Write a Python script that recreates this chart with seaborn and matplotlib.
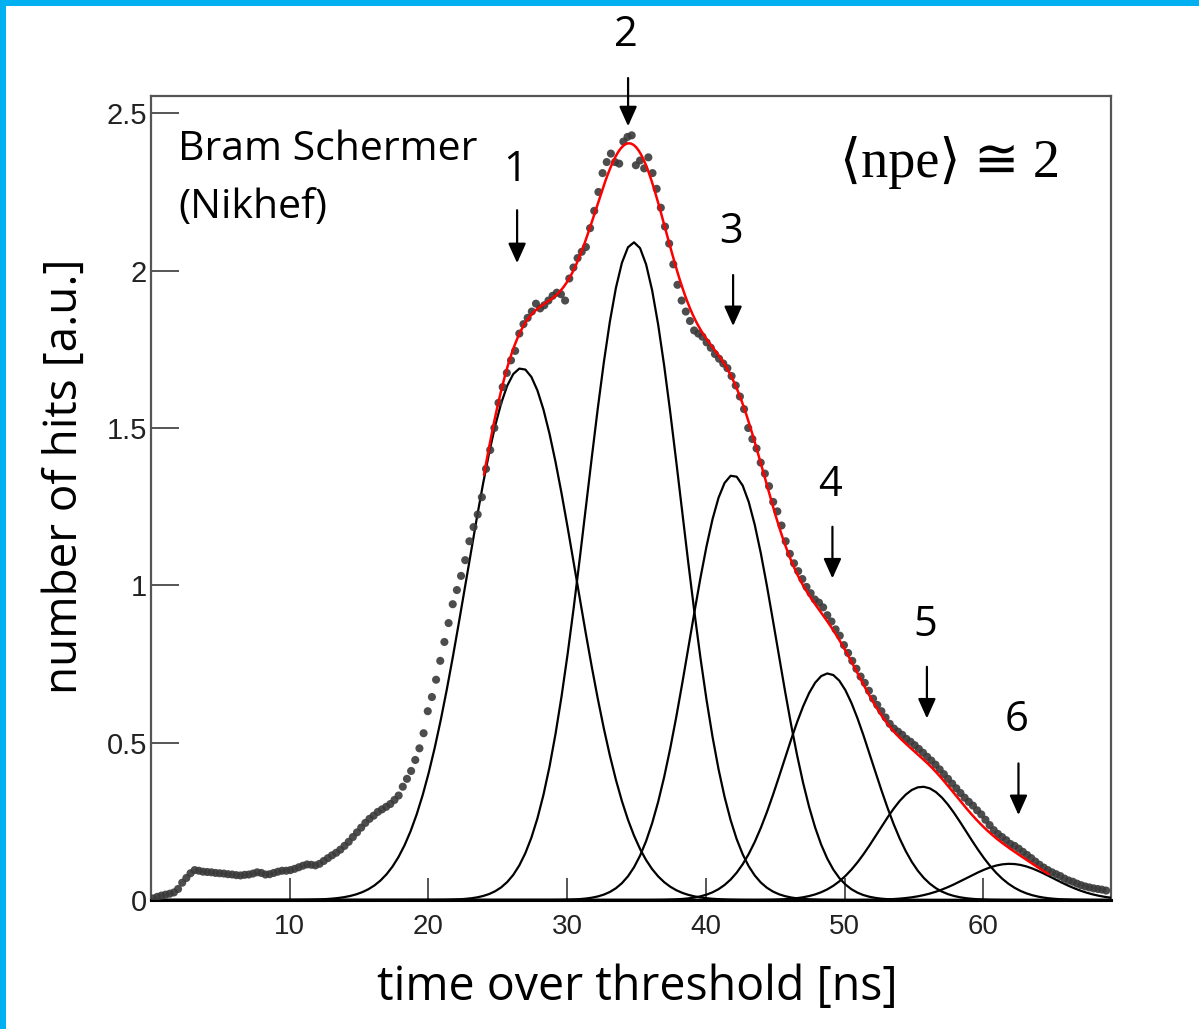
import numpy as np
import pandas as pd
import seaborn as sns
import matplotlib
matplotlib.use("Agg")
import matplotlib.pyplot as plt
from matplotlib.ticker import MultipleLocator, FuncFormatter
from matplotlib.patches import Rectangle

# ---------------- data ----------------
# histogram binning of the time-over-threshold data (bin centres)
tot_first_bin = 0.15
tot_bin_width = 0.3
hits = [
    0.005, 0.010, 0.014, 0.017, 0.020, 0.024, 0.035, 0.055, 0.070, 0.085,
    0.095, 0.093, 0.090, 0.089, 0.088, 0.086, 0.085, 0.084, 0.082, 0.081,
    0.079, 0.078, 0.080, 0.081, 0.084, 0.088, 0.086, 0.081, 0.082, 0.086,
    0.090, 0.093, 0.093, 0.095, 0.099, 0.104, 0.109, 0.113, 0.112, 0.110,
    0.115, 0.124, 0.133, 0.142, 0.150, 0.160, 0.172, 0.185, 0.200, 0.215,
    0.230, 0.245, 0.258, 0.268, 0.280, 0.288, 0.296, 0.305, 0.318, 0.332,
    0.360, 0.385, 0.410, 0.445, 0.482, 0.530, 0.600, 0.645, 0.700, 0.760,
    0.820, 0.880, 0.940, 0.985, 1.030, 1.080, 1.140, 1.185, 1.225, 1.280,
    1.370, 1.430, 1.500, 1.580, 1.630, 1.675, 1.715, 1.745, 1.800, 1.830,
    1.850, 1.870, 1.895, 1.880, 1.890, 1.905, 1.920, 1.930, 1.925, 1.905,
    1.975, 2.010, 2.040, 2.060, 2.075, 2.135, 2.190, 2.250, 2.310, 2.345,
    2.372, 2.345, 2.340, 2.410, 2.425, 2.430, 2.335, 2.350, 2.325, 2.360,
    2.310, 2.260, 2.200, 2.140, 2.086, 2.020, 1.955, 1.905, 1.870, 1.840,
    1.810, 1.800, 1.790, 1.772, 1.755, 1.735, 1.720, 1.705, 1.690, 1.665,
    1.635, 1.600, 1.560, 1.500, 1.465, 1.435, 1.390, 1.355, 1.315, 1.265,
    1.235, 1.190, 1.140, 1.100, 1.070, 1.045, 1.020, 0.995, 0.975, 0.955,
    0.945, 0.930, 0.905, 0.885, 0.860, 0.840, 0.810, 0.785, 0.760, 0.735,
    0.710, 0.690, 0.665, 0.640, 0.620, 0.600, 0.580, 0.560, 0.545, 0.535,
    0.525, 0.512, 0.503, 0.492, 0.480, 0.468, 0.455, 0.443, 0.430, 0.415,
    0.400, 0.385, 0.370, 0.355, 0.340, 0.325, 0.312, 0.300, 0.285, 0.272,
    0.255, 0.238, 0.222, 0.210, 0.200, 0.190, 0.178, 0.172, 0.163, 0.153,
    0.143, 0.133, 0.122, 0.112, 0.103, 0.095, 0.088, 0.082, 0.076, 0.068,
    0.062, 0.058, 0.052, 0.047, 0.043, 0.040, 0.037, 0.035, 0.033, 0.030,
]

# Gaussian components of the fit (one per number of photo-electrons)
peak_labels = ["1", "2", "3", "4", "5", "6"]
peak_amp = [1.69, 2.09, 1.35, 0.72, 0.36, 0.115]
peak_mean = [26.7, 34.8, 41.95, 48.8, 55.6, 61.9]
peak_sigma = [3.95, 3.4, 3.15, 3.2, 3.15, 3.1]
fit_range = [24.0, 64.7]

# label / arrow positions (data coords): label centre and arrow tail/tip
label_x = [26.24, 34.25, 41.8, 48.95, 55.8, 62.36]
label_y = [2.32, 2.749, 2.123, 1.319, 0.874, 0.572]
arrow_x = [26.39, 34.39, 41.96, 49.12, 55.93, 62.53]
arrow_tail = [2.192, 2.612, 1.986, 1.186, 0.741, 0.434]
arrow_tip = [2.024, 2.459, 1.824, 1.022, 0.577, 0.270]

x_limits = (0, 69.2)
y_limits = (0, 2.555)

# ---------------- figure ----------------
sns.set_theme(style="white")
plt.rcParams["font.family"] = ["Liberation Sans", "DejaVu Sans"]

W, H = 1199, 1029
fig = plt.figure(figsize=(W / 100, H / 100), dpi=100)
fig.patch.set_facecolor("white")
ax = fig.add_axes([151 / W, 1 - 900 / H, 960 / W, 804 / H])

tot = tot_first_bin + tot_bin_width * np.arange(len(hits))
df_hits = pd.DataFrame({"tot": tot, "hits": hits})

def gauss(x, a, m, s):
    return a * np.exp(-0.5 * ((x - m) / s) ** 2)

xs = np.linspace(x_limits[0], x_limits[1], 160)
for a, m, s in zip(peak_amp, peak_mean, peak_sigma):
    dfc = pd.DataFrame({"x": xs, "y": gauss(xs, a, m, s)})
    sns.lineplot(data=dfc, x="x", y="y", ax=ax, color="black", lw=1.6,
                 estimator=None, sort=False, zorder=3)

sns.scatterplot(data=df_hits, x="tot", y="hits", ax=ax, color="#3a3a3a",
                s=34, edgecolor="none", alpha=0.9, zorder=4)

xf = np.linspace(fit_range[0], fit_range[1], 220)
total = np.zeros_like(xf)
for a, m, s in zip(peak_amp, peak_mean, peak_sigma):
    total += gauss(xf, a, m, s)
sns.lineplot(x=xf, y=total, ax=ax, color="#ff0000", lw=1.8,
             estimator=None, sort=False, zorder=5)

ax.set_xlim(*x_limits)
ax.set_ylim(*y_limits)
ax.set_xlabel("")
ax.set_ylabel("")

ax.xaxis.set_major_locator(MultipleLocator(10))
ax.xaxis.set_minor_locator(MultipleLocator(2))
ax.yaxis.set_major_locator(MultipleLocator(0.5))
ax.yaxis.set_minor_locator(MultipleLocator(0.1))
ax.xaxis.set_major_formatter(FuncFormatter(lambda v, p: "" if v == 0 else f"{v:g}"))
ax.yaxis.set_major_formatter(FuncFormatter(lambda v, p: f"{v:g}"))

ax.tick_params(axis="y", which="major", direction="in", length=20, width=1.4,
               color="#555555", labelsize=21, labelcolor="#222222", pad=3)
ax.tick_params(axis="y", which="minor", direction="in", length=11, width=1.4,
               color="#555555")
ax.tick_params(axis="x", which="major", direction="in", length=16, width=1.4,
               color="#555555", labelsize=20, labelcolor="#222222", pad=10)
ax.tick_params(axis="x", which="minor", direction="in", length=8.5, width=1.4,
               color="#555555")
ax.tick_params(left=True, bottom=True, top=False, right=False)

for side in ["left", "top", "right"]:
    ax.spines[side].set_color("#555555")
    ax.spines[side].set_linewidth(1.6)
ax.spines["bottom"].set_color("black")
ax.spines["bottom"].set_linewidth(2.2)

# peak labels with arrows
for lab, lx, ly, axx, yt, yp in zip(peak_labels, label_x, label_y, arrow_x,
                                     arrow_tail, arrow_tip):
    ax.text(lx, ly, lab, ha="center", va="center", fontsize=30,
            family=["Open Sans", "DejaVu Sans"], color="black", clip_on=False)
    ax.annotate("", xy=(axx, yp), xytext=(axx, yt),
                arrowprops=dict(arrowstyle="-|>,head_length=0.6,head_width=0.27",
                                lw=1.6, color="black", shrinkA=0, shrinkB=0,
                                mutation_scale=20),
                annotation_clip=False)

# annotations
fig.text(178 / W, 1 - 160 / H, "Bram Schermer", ha="left", va="baseline",
         fontsize=29.5, family=["Open Sans", "DejaVu Sans"], color="black")
fig.text(178 / W, 1 - 218 / H, "(Nikhef)", ha="left", va="baseline",
         fontsize=29.5, family=["Open Sans", "DejaVu Sans"], color="black")
fig.text(840 / W, 1 - 177 / H, "\u27e8npe\u27e9 \u2245 2", ha="left",
         va="baseline", fontsize=39,
         family=["Liberation Serif", "DejaVu Serif", "DejaVu Sans"], color="black")

# axis titles
fig.text(637 / W, 1 - 1000 / H, "time over threshold [ns]", ha="center",
         va="baseline", fontsize=33.5, family=["Open Sans", "DejaVu Sans"],
         color="black")
fig.text(65 / W, 1 - 476 / H, "number of hits [a.u.]", ha="center",
         va="center", rotation=90, fontsize=33,
         family=["Open Sans", "DejaVu Sans"], color="black")

# blue slide frame (top and left edges)
fig.patches.append(Rectangle((0, 1 - 6 / H), 1, 6 / H, transform=fig.transFigure,
                             facecolor="#00B0F0", edgecolor="none", zorder=10))
fig.patches.append(Rectangle((0, 0), 6 / W, 1, transform=fig.transFigure,
                             facecolor="#00B0F0", edgecolor="none", zorder=10))

fig.savefig("out.png", dpi=100, facecolor="white")
